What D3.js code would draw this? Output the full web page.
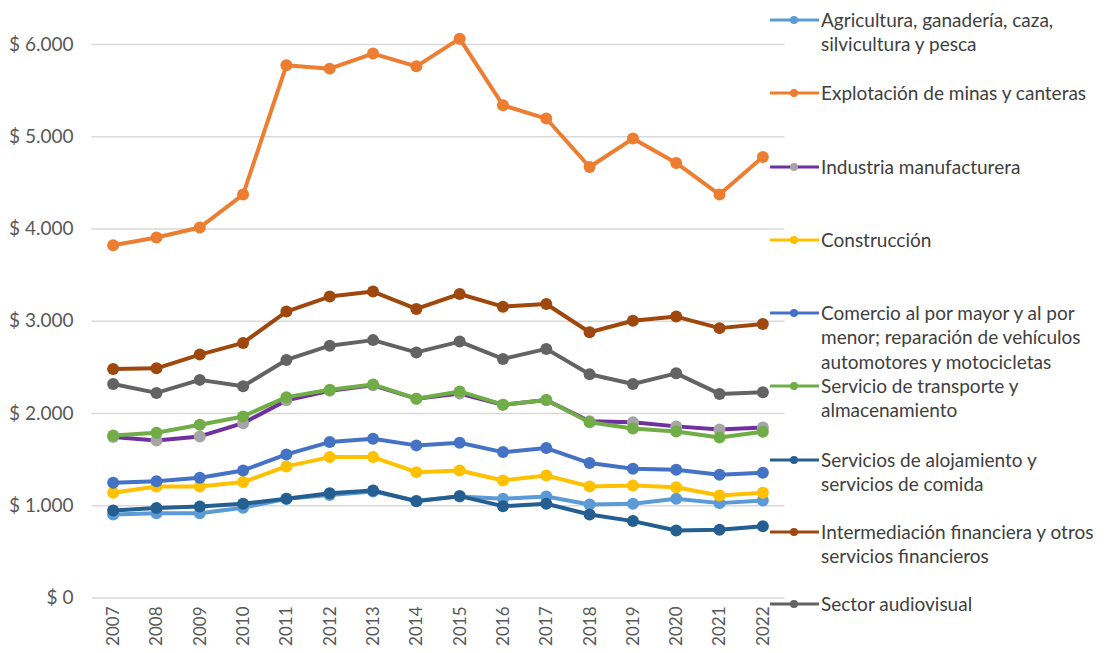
<!DOCTYPE html>
<html><head><meta charset="utf-8">
<script src="https://cdn.jsdelivr.net/npm/d3@7"></script>
<style>body{margin:0;background:#fff} svg{display:block}</style>
</head><body><svg id="c" width="1106" height="653"></svg>
<script>
// ---- data ----
const years = ["2007","2008","2009","2010","2011","2012","2013","2014","2015","2016","2017","2018","2019","2020","2021","2022"];
const agricultura    = [900, 914, 914, 973, 1070, 1110, 1150, 1050, 1095, 1070, 1095, 1009, 1016, 1070, 1023, 1052];
const explotacion    = [3819, 3903, 4011, 4368, 5769, 5733, 5896, 5758, 6058, 5336, 5192, 4667, 4975, 4711, 4368, 4776];
const industria      = [1739, 1703, 1746, 1890, 2137, 2240, 2300, 2155, 2210, 2090, 2140, 1910, 1900, 1855, 1822, 1844];
const construccion   = [1135, 1204, 1204, 1251, 1421, 1522, 1522, 1359, 1377, 1269, 1323, 1204, 1215, 1196, 1106, 1135];
const comercio       = [1244, 1261, 1298, 1377, 1551, 1685, 1721, 1649, 1678, 1576, 1620, 1457, 1396, 1385, 1331, 1352];
const transporte     = [1757, 1786, 1873, 1963, 2172, 2253, 2310, 2155, 2234, 2090, 2140, 1900, 1833, 1800, 1735, 1797];
const alojamiento    = [944, 969, 987, 1016, 1070, 1131, 1160, 1044, 1099, 990, 1016, 900, 828, 727, 734, 773];
const intermediacion = [2478, 2484, 2633, 2760, 3100, 3262, 3316, 3128, 3290, 3153, 3182, 2875, 3000, 3045, 2920, 2965];
const audiovisual    = [2315, 2218, 2359, 2290, 2575, 2730, 2790, 2657, 2774, 2586, 2695, 2420, 2315, 2430, 2207, 2224];

const seriesNames = [
  ["Agricultura, ganadería, caza,", "silvicultura y pesca"],
  ["Explotación de minas y canteras"],
  ["Industria manufacturera"],
  ["Construcción"],
  ["Comercio al por mayor y al por", "menor; reparación de vehículos", "automotores y motocicletas"],
  ["Servicio de transporte y", "almacenamiento"],
  ["Servicios de alojamiento y", "servicios de comida"],
  ["Intermediación financiera y otros", "servicios financieros"],
  ["Sector audiovisual"]
];
const seriesValues = [agricultura, explotacion, industria, construccion, comercio, transporte, alojamiento, intermediacion, audiovisual];
const yTicks = [0, 1000, 2000, 3000, 4000, 5000, 6000];
const yTickLabels = ["$ 0", "$ 1.000", "$ 2.000", "$ 3.000", "$ 4.000", "$ 5.000", "$ 6.000"];

// ---- styles / layout ----
const lineColors   = ["#5B9BD5","#ED7D31","#7030A0","#FFC000","#4472C4","#70AD47","#255E91","#9E480E","#636363"];
const markerColors = ["#5B9BD5","#ED7D31","#A5A5A5","#FFC000","#4472C4","#70AD47","#255E91","#9E480E","#636363"];
const legendY = [20, 93, 167, 240, 313, 386, 460, 532, 604];
const FONT = "Lato, 'Open Sans', sans-serif";

const svg = d3.select("#c");
const x = d3.scaleBand().domain(years).range([91.5, 784.5]);
const cx = d => x(d) + x.bandwidth() / 2;
const y = d3.scaleLinear().domain([0, 6000]).range([597.5, 44]);

// gridlines + y labels
const yAxis = d3.axisLeft(y).tickValues(yTicks).tickSize(-(784.5 - 91.5))
  .tickFormat((d, i) => yTickLabels[i]).tickPadding(18);
const ga = svg.append("g").attr("transform", "translate(91.5,0)").call(yAxis);
ga.select(".domain").remove();
ga.selectAll(".tick line").attr("stroke", "#D9D9D9").attr("stroke-width", 1.5);
ga.selectAll(".tick text").attr("fill", "#595959").style("font-family", FONT).style("font-size", "19px");

// x labels
const xAxis = d3.axisBottom(x).tickSize(0).tickPadding(0);
const gx = svg.append("g").attr("transform", "translate(0,597.5)").call(xAxis);
gx.select(".domain").remove();
gx.selectAll(".tick text")
  .attr("transform", "rotate(-90)")
  .attr("text-anchor", "end")
  .attr("x", -9).attr("y", 0).attr("dy", "0.35em")
  .attr("fill", "#595959").style("font-family", FONT).style("font-size", "17px");

// lines
const line = d3.line().x((d, i) => cx(years[i])).y(d => y(d));
seriesValues.forEach((vals, s) => {
  const g = svg.append("g");
  g.append("path").datum(vals).attr("d", line).attr("fill", "none")
    .attr("stroke", lineColors[s]).attr("stroke-width", 4)
    .attr("stroke-linejoin", "round").attr("stroke-linecap", "round");
  g.selectAll("circle").data(vals).join("circle")
    .attr("cx", (d, i) => cx(years[i])).attr("cy", d => y(d)).attr("r", 6)
    .attr("fill", markerColors[s]);
});

// legend
const lg = svg.append("g");
seriesNames.forEach((lines, s) => {
  const yy = legendY[s];
  lg.append("line").attr("x1", 770).attr("x2", 819).attr("y1", yy).attr("y2", yy)
    .attr("stroke", lineColors[s]).attr("stroke-width", 3);
  lg.append("circle").attr("cx", 794).attr("cy", yy).attr("r", 4).attr("fill", markerColors[s]);
  const t = lg.append("text").attr("x", 821).attr("y", yy)
    .attr("fill", "#404040").style("font-family", FONT).style("font-size", "19px");
  lines.forEach((ln, k) => {
    t.append("tspan").attr("x", 821).attr("dy", k === 0 ? "0.35em" : 24.5).text(ln);
  });
});
</script>
</body></html>
